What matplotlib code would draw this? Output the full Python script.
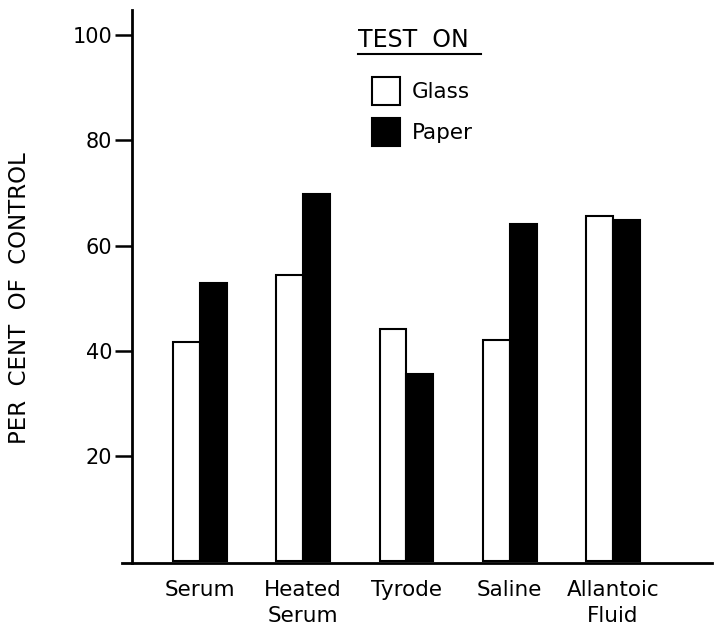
import numpy as np
import matplotlib
matplotlib.use("Agg")
import matplotlib.pyplot as plt
from matplotlib.patches import Patch
from matplotlib.lines import Line2D

plt.rcParams['font.family'] = 'DejaVu Sans'

categories = ['Serum', 'Heated\nSerum', 'Tyrode', 'Saline', 'Allantoic\nFluid']
glass = [41.7, 54.5, 44.2, 42.1, 65.7]
paper = [53.0, 69.9, 35.6, 64.2, 64.8]
y_ticks = [20, 40, 60, 80, 100]

fig = plt.figure(figsize=(7.14, 6.4), dpi=100)
ax = fig.add_axes([0.1709, 0.1203, 0.8263, 0.8641])

x = np.arange(len(categories))
width = 0.26
ax.bar(x - width / 2, glass, width, color='white', edgecolor='black', linewidth=1.5)
ax.bar(x + width / 2, paper, width, color='black', edgecolor='black', linewidth=1.5)

ax.set_xlim(-0.755, 4.96)
ax.set_ylim(-0.3, 104.8)

ax.spines['top'].set_visible(False)
ax.spines['right'].set_visible(False)
ax.spines['left'].set_position(('data', -0.66))
for s in ['left', 'bottom']:
    ax.spines[s].set_linewidth(2.0)

ax.set_yticks(y_ticks)
ax.set_yticklabels([str(t) for t in y_ticks], fontsize=15)
ax.tick_params(axis='y', length=12, width=1.8, pad=2)
ax.set_xticks(x)
ax.set_xticklabels(categories, fontsize=15.5, linespacing=1.4)
ax.tick_params(axis='x', length=0, pad=12)

ax.set_ylabel('PER  CENT  OF  CONTROL', fontsize=16.5)
ax.yaxis.set_label_coords(-0.155, 0.479)

handles = [Patch(facecolor='white', edgecolor='black', linewidth=1.5, label='Glass'),
           Patch(facecolor='black', edgecolor='black', linewidth=1.5, label='Paper')]
fig.legend(handles=handles, loc='upper left', bbox_to_anchor=(372 / 714, 1 - 77 / 640),
           frameon=False, fontsize=15.5, handlelength=1.3, handleheight=1.6,
           handletextpad=0.55, labelspacing=0.62, borderpad=0, borderaxespad=0)

fig.text(358 / 714, 1 - 40 / 640, 'TEST  ON', fontsize=17, va='center', ha='left')
fig.add_artist(Line2D([358 / 714, 481 / 714], [1 - 54 / 640, 1 - 54 / 640],
                      color='black', linewidth=1.5))

fig.savefig('out.png', dpi=100)
